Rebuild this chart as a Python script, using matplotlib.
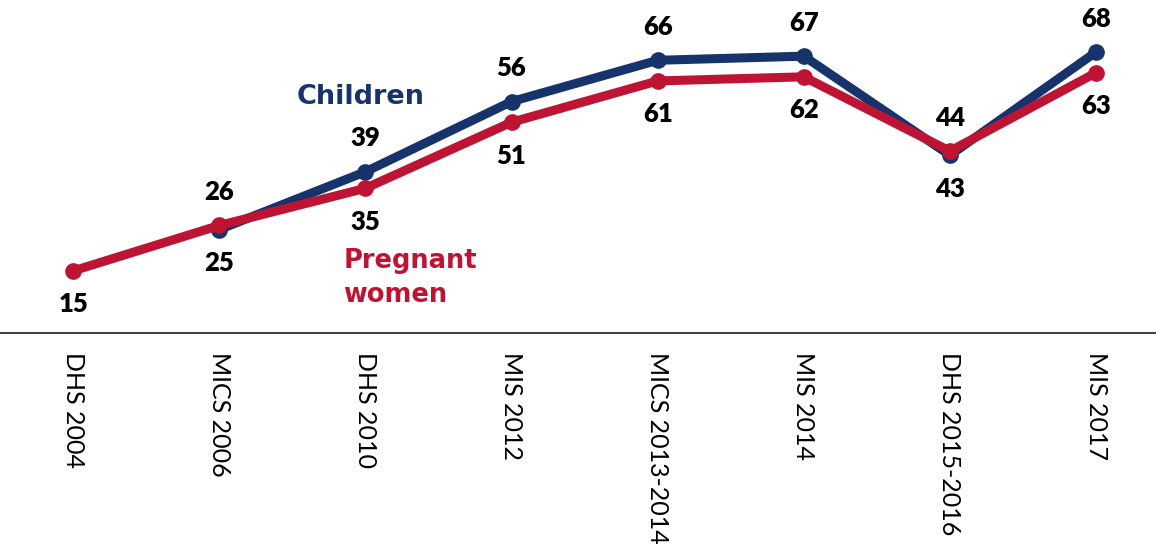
import numpy as np
import matplotlib
matplotlib.use("Agg")
import matplotlib.pyplot as plt

surveys = ["DHS 2004", "MICS 2006", "DHS 2010", "MIS 2012", "MICS 2013-2014",
           "MIS 2014", "DHS 2015-2016", "MIS 2017"]
children = [np.nan, 25, 39, 56, 66, 67, 43, 68]
pregnant = [15, 26, 35, 51, 61, 62, 44, 63]
# label placement: +1 above the point, -1 below
children_pos = [0, -1, 1, 1, 1, 1, -1, 1]
pregnant_pos = [-1, 1, -1, -1, -1, -1, 1, -1]

NAVY = "#17336b"
RED = "#be1434"

plt.rcParams["font.family"] = ["Lato", "DejaVu Sans"]

fig = plt.figure(figsize=(11.56, 5.52), dpi=100)
ax = fig.add_axes([0, 0.397, 1, 0.603])

x = np.arange(len(surveys))
ax.plot(x, children, color=NAVY, lw=6.5, marker="o", ms=11, solid_capstyle="round", zorder=2)
ax.plot(x, pregnant, color=RED, lw=6.5, marker="o", ms=11, solid_capstyle="round", zorder=3)

label_kw = dict(textcoords="offset points", ha="center", va="center",
                fontsize=18.5, fontweight="heavy", color="black")
for xi, v, p in zip(x, children, children_pos):
    if np.isnan(v):
        continue
    ax.annotate(f"{v:.0f}", (xi, v), xytext=(0, 24 * p), **label_kw)
for xi, v, p in zip(x, pregnant, pregnant_pos):
    ax.annotate(f"{v:.0f}", (xi, v), xytext=(0, 24 * p), **label_kw)

ax.text(1.53, 57.1, "Children", color=NAVY, fontsize=19.5, fontweight="bold",
        family="DejaVu Sans", ha="left", va="center")
ax.text(1.85, 13.4, "Pregnant\nwomen", color=RED, fontsize=18.5, fontweight="bold",
        family="DejaVu Sans", ha="left", va="center", linespacing=1.4)

ax.set_xlim(-0.5, 7.41)
ax.set_ylim(0, 80.6)
ax.set_xticks(x)
ax.set_xticklabels(surveys, rotation=-90, fontsize=18, va="top", ha="center")
ax.tick_params(axis="x", length=0, pad=14)
ax.set_yticks([])
for s in ["top", "right", "left"]:
    ax.spines[s].set_visible(False)
ax.spines["bottom"].set_color("#444444")
ax.spines["bottom"].set_linewidth(1.5)
ax.spines["bottom"].set_bounds(-0.5 + 0.003, 7.41)

fig.savefig("out.png", dpi=100)
